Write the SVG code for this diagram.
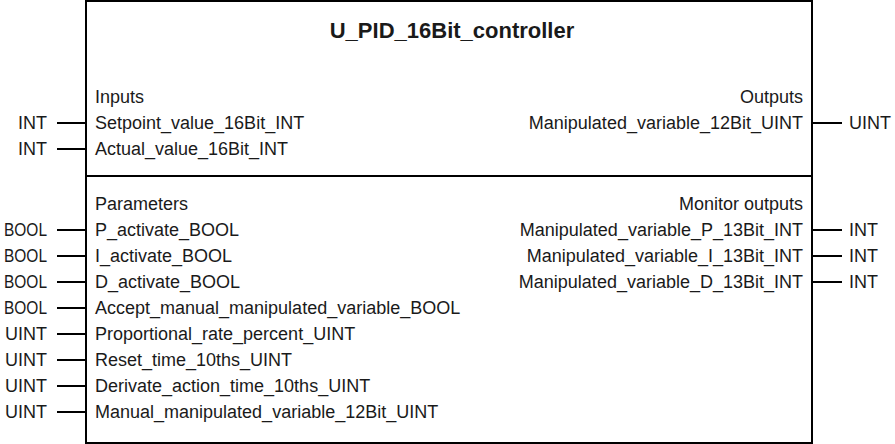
<svg xmlns="http://www.w3.org/2000/svg" width="895" height="444" viewBox="0 0 895 444">
  <style>
    text { font-family: "Liberation Sans", Arial, sans-serif; font-size: 18px; fill: #1a1a1a; }
    .title { font-size: 22px; font-weight: bold; text-anchor: middle; }
    .r { text-anchor: end; }
    .box { fill: #ffffff; stroke: #000000; stroke-width: 2; }
    .sep { stroke: #000000; stroke-width: 2; }
    .wire { stroke: #000000; stroke-width: 2; fill: none; }
  </style>
  <rect width="895" height="444" fill="#ffffff"/>

  <g id="block">
    <rect class="box" x="86" y="1" width="726" height="442"/>
    <line class="sep" x1="86" y1="176" x2="812" y2="176"/>
    <text class="title" x="452" y="38">U_PID_16Bit_controller</text>
    <text x="95" y="103">Inputs</text>
    <text x="95" y="129">Setpoint_value_16Bit_INT</text>
    <text x="95" y="155">Actual_value_16Bit_INT</text>
    <text x="95" y="210">Parameters</text>
    <text x="95" y="236">P_activate_BOOL</text>
    <text x="95" y="262">I_activate_BOOL</text>
    <text x="95" y="288">D_activate_BOOL</text>
    <text x="95" y="314">Accept_manual_manipulated_variable_BOOL</text>
    <text x="95" y="340">Proportional_rate_percent_UINT</text>
    <text x="95" y="366">Reset_time_10ths_UINT</text>
    <text x="95" y="392">Derivate_action_time_10ths_UINT</text>
    <text x="95" y="418">Manual_manipulated_variable_12Bit_UINT</text>
    <text class="r" x="803" y="103">Outputs</text>
    <text class="r" x="803" y="129">Manipulated_variable_12Bit_UINT</text>
    <text class="r" x="803" y="210">Monitor outputs</text>
    <text class="r" x="803" y="236">Manipulated_variable_P_13Bit_INT</text>
    <text class="r" x="803" y="262">Manipulated_variable_I_13Bit_INT</text>
    <text class="r" x="803" y="288">Manipulated_variable_D_13Bit_INT</text>
  </g>

  <g id="connectors">
    <line class="wire" x1="57" y1="123" x2="86" y2="123"/>
    <line class="wire" x1="57" y1="149" x2="86" y2="149"/>
    <line class="wire" x1="57" y1="230" x2="86" y2="230"/>
    <line class="wire" x1="57" y1="256" x2="86" y2="256"/>
    <line class="wire" x1="57" y1="282" x2="86" y2="282"/>
    <line class="wire" x1="57" y1="308" x2="86" y2="308"/>
    <line class="wire" x1="57" y1="334" x2="86" y2="334"/>
    <line class="wire" x1="57" y1="360" x2="86" y2="360"/>
    <line class="wire" x1="57" y1="386" x2="86" y2="386"/>
    <line class="wire" x1="57" y1="412" x2="86" y2="412"/>
    <line class="wire" x1="812" y1="123" x2="842" y2="123"/>
    <line class="wire" x1="812" y1="230" x2="842" y2="230"/>
    <line class="wire" x1="812" y1="256" x2="842" y2="256"/>
    <line class="wire" x1="812" y1="282" x2="842" y2="282"/>
  </g>

  <g id="in-setpoint-type"><text class="r" x="47" y="129">INT</text></g>
  <g id="in-actual-type"><text class="r" x="47" y="155">INT</text></g>
  <g id="in-p-activate-type"><text x="4" y="236" textLength="43" lengthAdjust="spacingAndGlyphs">BOOL</text></g>
  <g id="in-i-activate-type"><text x="4" y="262" textLength="43" lengthAdjust="spacingAndGlyphs">BOOL</text></g>
  <g id="in-d-activate-type"><text x="4" y="288" textLength="43" lengthAdjust="spacingAndGlyphs">BOOL</text></g>
  <g id="in-accept-type"><text x="4" y="314" textLength="43" lengthAdjust="spacingAndGlyphs">BOOL</text></g>
  <g id="in-prop-type"><text class="r" x="47" y="340">UINT</text></g>
  <g id="in-reset-type"><text class="r" x="47" y="366">UINT</text></g>
  <g id="in-derivate-type"><text class="r" x="47" y="392">UINT</text></g>
  <g id="in-manual-type"><text class="r" x="47" y="418">UINT</text></g>
  <g id="out-manip-type"><text x="849" y="129">UINT</text></g>
  <g id="out-p-type"><text x="849" y="236">INT</text></g>
  <g id="out-i-type"><text x="849" y="262">INT</text></g>
  <g id="out-d-type"><text x="849" y="288">INT</text></g>
</svg>
